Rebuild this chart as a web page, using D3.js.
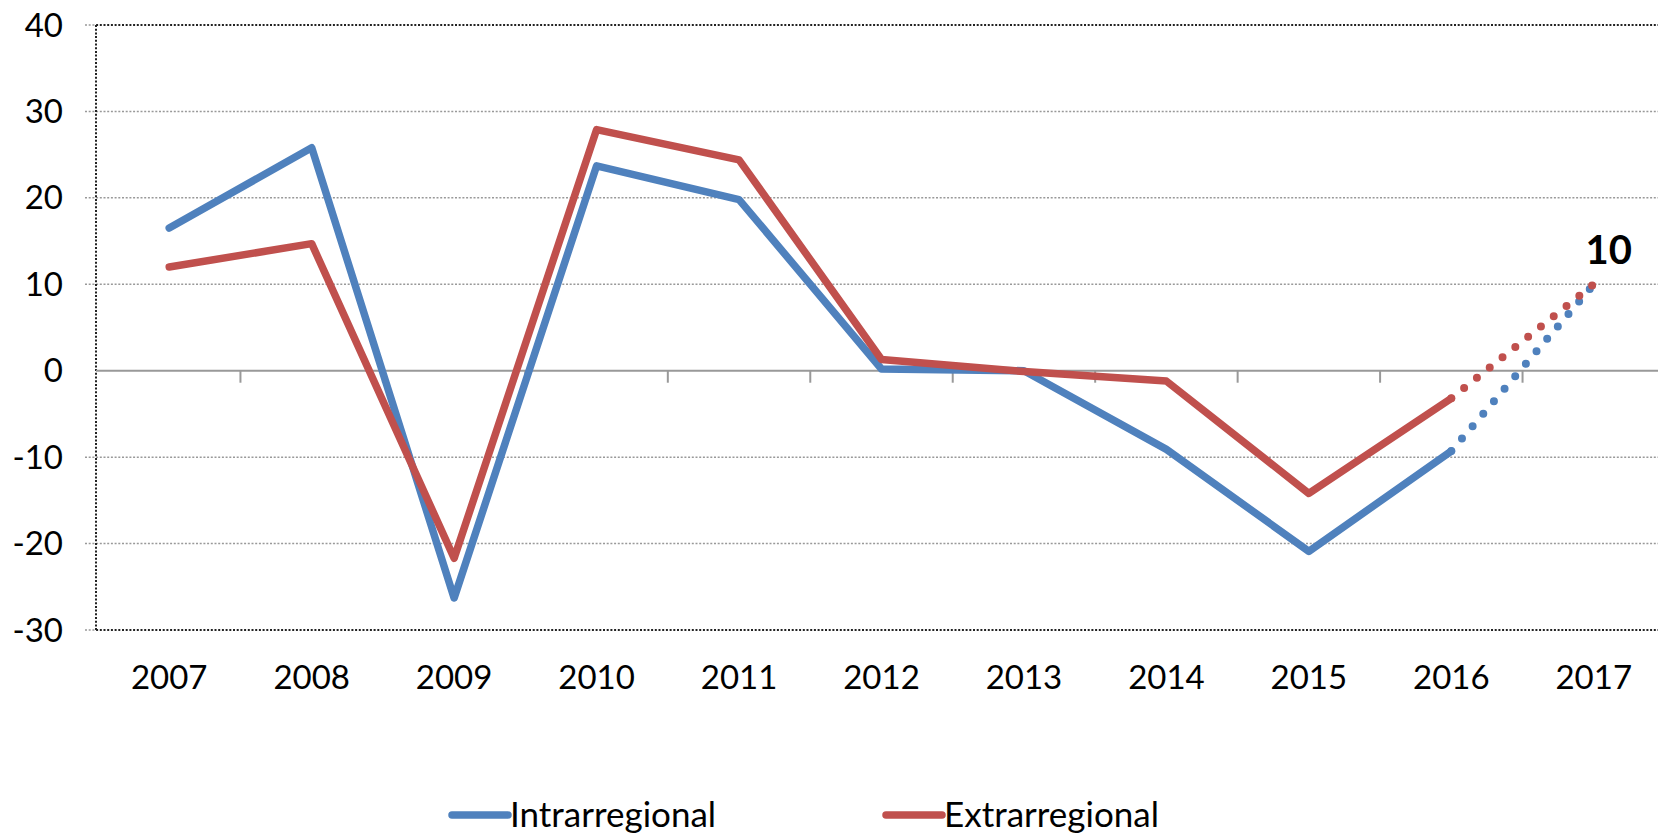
<!DOCTYPE html>
<html>
<head>
<meta charset="utf-8">
<script src="https://cdn.jsdelivr.net/npm/d3@7"></script>
<style>
  body { margin: 0; background: #fff; }
  svg text { font-family: Lato, "Open Sans", sans-serif; fill: #000; }
</style>
</head>
<body>
<div class="chart"></div>
<script>
// Chart data
const years = ["2007", "2008", "2009", "2010", "2011", "2012", "2013", "2014", "2015", "2016", "2017"];
const intra = [16.5, 25.8, -26.3, 23.7, 19.8, 0.2, 0, -9.1, -20.9, -9.3, 10];
const extra = [12.0, 14.7, -21.7, 27.9, 24.4, 1.3, -0.1, -1.2, -14.2, -3.2, 10];
const yTicks = [40, 30, 20, 10, 0, -10, -20, -30];
const seriesNames = ["Intrarregional", "Extrarregional"];
const seriesColors = ["#4F81BD", "#C0504D"];
const lastLabel = "10";

const width = 1658, height = 833;

const svg = d3.select(".chart")
    .append("svg")
    .attr("width", width)
    .attr("height", height);

// Scales
const xScale = d3.scaleBand()
    .domain(years)
    .range([98, 1665])
    .padding(0);

const yScale = d3.scaleLinear()
    .domain([-30, 40])
    .range([630, 25]);

const cx = d => xScale(d) + xScale.bandwidth() / 2;

// Gridlines (dotted)
svg.append("g")
    .selectAll("line")
    .data(yTicks.filter(t => t !== 0))
    .enter()
    .append("line")
    .attr("x1", 85)
    .attr("x2", width)
    .attr("y1", d => yScale(d))
    .attr("y2", d => yScale(d))
    .attr("stroke", d => (d === 40 || d === -30) ? "#222" : "#999")
    .attr("stroke-width", d => (d === 40 || d === -30) ? 2 : 1.5)
    .attr("stroke-dasharray", "2,1.7");

// Small gray ticks left of axis for the border lines
svg.append("g")
    .selectAll("line")
    .data([40, -30])
    .enter()
    .append("line")
    .attr("x1", 85)
    .attr("x2", 96)
    .attr("y1", d => yScale(d))
    .attr("y2", d => yScale(d))
    .attr("stroke", "#fff")
    .attr("stroke-width", 2.5);
svg.append("g")
    .selectAll("line")
    .data([40, -30])
    .enter()
    .append("line")
    .attr("x1", 85)
    .attr("x2", 96)
    .attr("y1", d => yScale(d))
    .attr("y2", d => yScale(d))
    .attr("stroke", "#999")
    .attr("stroke-width", 1.5)
    .attr("stroke-dasharray", "2,1.7");

// Left axis (dotted black)
svg.append("line")
    .attr("x1", 96)
    .attr("x2", 96)
    .attr("y1", yScale(40))
    .attr("y2", yScale(-30))
    .attr("stroke", "#222")
    .attr("stroke-width", 2)
    .attr("stroke-dasharray", "2,1.7");

// Zero line with category ticks
const zeroY = yScale(0);
svg.append("line")
    .attr("x1", 96)
    .attr("x2", width)
    .attr("y1", zeroY)
    .attr("y2", zeroY)
    .attr("stroke", "#999")
    .attr("stroke-width", 2);

svg.append("g")
    .selectAll("line")
    .data(years.slice(1))
    .enter()
    .append("line")
    .attr("x1", d => xScale(d))
    .attr("x2", d => xScale(d))
    .attr("y1", zeroY)
    .attr("y2", zeroY + 12)
    .attr("stroke", "#999")
    .attr("stroke-width", 2);

// Y labels
svg.append("g")
    .selectAll("text")
    .data(yTicks)
    .enter()
    .append("text")
    .attr("x", 63)
    .attr("y", d => yScale(d))
    .attr("dy", "0.35em")
    .attr("text-anchor", "end")
    .attr("font-size", 33)
    .text(d => d);

// X labels
svg.append("g")
    .selectAll("text")
    .data(years)
    .enter()
    .append("text")
    .attr("x", d => cx(d))
    .attr("y", 689)
    .attr("text-anchor", "middle")
    .attr("font-size", 33)
    .text(d => d);

// Lines
const line = d3.line()
    .x(d => cx(d.year))
    .y(d => yScale(d.value));

[intra, extra].forEach(function(vals, i) {
    const pts = years.map((year, j) => ({ year, value: vals[j] }));
    const n = pts.length;
    // solid part
    svg.append("path")
        .attr("fill", "none")
        .attr("stroke", seriesColors[i])
        .attr("stroke-width", 7.5)
        .attr("stroke-linejoin", "round")
        .attr("stroke-linecap", "round")
        .attr("d", line(pts.slice(0, n - 1)));
    // dotted projection
    svg.append("path")
        .attr("fill", "none")
        .attr("stroke", seriesColors[i])
        .attr("stroke-width", 8)
        .attr("stroke-linecap", "round")
        .attr("stroke-dasharray", "0,16.4")
        .attr("stroke-dashoffset", -16.4)
        .attr("d", line(pts.slice(n - 2)));
});

// Label on the last point
svg.append("text")
    .attr("x", cx(years[years.length - 1]) + 15)
    .attr("y", yScale(extra[extra.length - 1]) - 20)
    .attr("text-anchor", "middle")
    .attr("font-size", 40)
    .attr("font-weight", "bold")
    .text(lastLabel);

// Legend
const legendX = [452, 886];
const legend = svg.append("g");
seriesNames.forEach(function(name, i) {
    legend.append("line")
        .attr("x1", legendX[i])
        .attr("x2", legendX[i] + 56)
        .attr("y1", 815)
        .attr("y2", 815)
        .attr("stroke", seriesColors[i])
        .attr("stroke-width", 7.5)
        .attr("stroke-linecap", "round");
    legend.append("text")
        .attr("x", legendX[i] + 58)
        .attr("y", 815)
        .attr("dy", "0.35em")
        .attr("font-size", 35)
        .text(name);
});
</script>
</body>
</html>
